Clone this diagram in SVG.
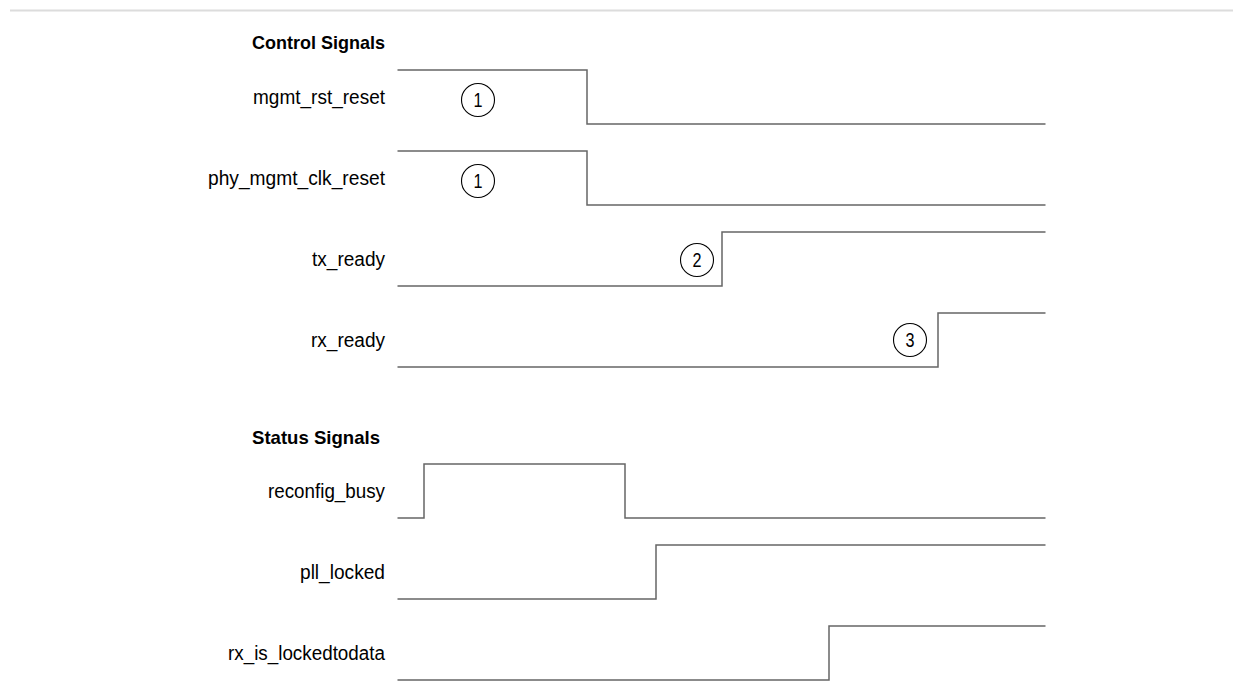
<svg xmlns="http://www.w3.org/2000/svg" width="1233" height="700" viewBox="0 0 1233 700">
<style>
.hdr{font-family:"Liberation Sans",Arial,sans-serif;font-size:19px;font-weight:bold;fill:#000}
.lbl{font-family:"Liberation Sans",Arial,sans-serif;font-size:20px;fill:#000;text-anchor:end}
.wave{fill:none;stroke:#666;stroke-width:1.5}
.mark circle{fill:none;stroke:#000;stroke-width:1.1}
.mark text{font-family:"Liberation Sans",Arial,sans-serif;font-size:20px;fill:#000;text-anchor:middle}
</style>
<rect width="1233" height="700" fill="#fff"/>
<line x1="10" y1="10.5" x2="1233" y2="10.5" stroke="#dcdcdc" stroke-width="2"/>
<text class="hdr" x="252" y="48.5" textLength="133" lengthAdjust="spacingAndGlyphs">Control Signals</text>
<text class="hdr" x="252" y="443.5" textLength="128" lengthAdjust="spacingAndGlyphs">Status Signals</text>
<g id="mgmt_rst_reset">
<text class="lbl" x="385" y="104" textLength="132" lengthAdjust="spacingAndGlyphs">mgmt_rst_reset</text>
<polyline class="wave" points="397.5,70 587,70 587,124 1045.5,124"/>
<g class="mark"><circle cx="478" cy="100" r="16.5"/><text x="478" y="107" textLength="9" lengthAdjust="spacingAndGlyphs">1</text></g>
</g>
<g id="phy_mgmt_clk_reset">
<text class="lbl" x="385" y="185" textLength="177" lengthAdjust="spacingAndGlyphs">phy_mgmt_clk_reset</text>
<polyline class="wave" points="397.5,151 587,151 587,205 1045.5,205"/>
<g class="mark"><circle cx="478" cy="181" r="16.5"/><text x="478" y="188" textLength="9" lengthAdjust="spacingAndGlyphs">1</text></g>
</g>
<g id="tx_ready">
<text class="lbl" x="385" y="266" textLength="73" lengthAdjust="spacingAndGlyphs">tx_ready</text>
<polyline class="wave" points="397.5,286 722,286 722,232 1045.5,232"/>
<g class="mark"><circle cx="697" cy="260" r="16.5"/><text x="697" y="267" textLength="9" lengthAdjust="spacingAndGlyphs">2</text></g>
</g>
<g id="rx_ready">
<text class="lbl" x="385" y="347" textLength="74" lengthAdjust="spacingAndGlyphs">rx_ready</text>
<polyline class="wave" points="397.5,367 938,367 938,313 1045.5,313"/>
<g class="mark"><circle cx="910" cy="340" r="16.5"/><text x="910" y="347" textLength="9" lengthAdjust="spacingAndGlyphs">3</text></g>
</g>
<g id="reconfig_busy">
<text class="lbl" x="385" y="498" textLength="117" lengthAdjust="spacingAndGlyphs">reconfig_busy</text>
<polyline class="wave" points="397.5,518 424,518 424,464 625,464 625,518 1045.5,518"/>
</g>
<g id="pll_locked">
<text class="lbl" x="385" y="579" textLength="85" lengthAdjust="spacingAndGlyphs">pll_locked</text>
<polyline class="wave" points="397.5,599 656,599 656,545 1045.5,545"/>
</g>
<g id="rx_is_lockedtodata">
<text class="lbl" x="385" y="660" textLength="157" lengthAdjust="spacingAndGlyphs">rx_is_lockedtodata</text>
<polyline class="wave" points="397.5,680 829,680 829,626 1045.5,626"/>
</g>
</svg>
